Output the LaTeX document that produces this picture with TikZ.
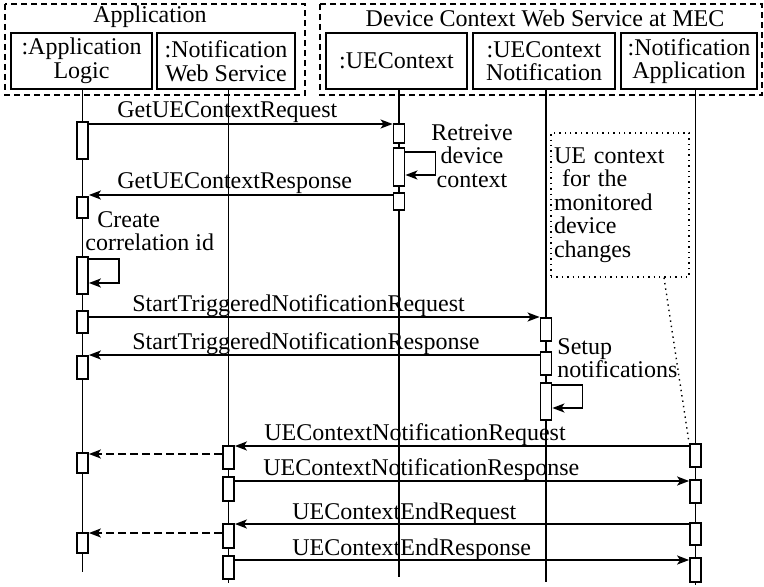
\documentclass[tikz,border=0pt]{standalone}
\usepackage{fontspec}
\setmainfont{Liberation Serif}
\usetikzlibrary{arrows.meta}
\def\actbar(#1)(#2:#3:#4){\node[act, minimum height={(#4-#3)*0.5pt}] (#1) at (#2,{(#3+#4)/2}) {}}

\begin{document}
\begin{tikzpicture}[x=0.5pt, y=-0.5pt, font=\fontsize{12}{11.8}\selectfont,
		act/.style={draw, fill=white, line width=0.9pt, minimum width=5.5pt, inner sep=0pt},
		head/.style={draw, line width=1pt, minimum height=28pt, align=center, inner sep=0pt},
		group/.style={line width=0.8pt, dash pattern=on 3pt off 2pt},
		msg/.style={line width=0.9pt, -{Stealth[length=6pt, width=4.5pt, inset=1.5pt]}},
		reply/.style={msg, dash pattern=on 4pt off 2pt},
		life/.style={line width=0.9pt},
		lbl/.style={anchor=base west, inner sep=0pt},
		note/.style={draw, line width=0.7pt, dotted, text width=66pt, align=left, inner sep=1.5pt, minimum height=72pt}]
		%%%%% START %%%%%
		\useasboundingbox (0,0) rectangle (764,587);
		
		\draw[group] (5,4) rectangle (305,95);
		\draw[group] (320,4) rectangle (762,95);
		\node[anchor=base, inner sep=0pt] (appt) at (150,23) {Application};
		\node[anchor=base, inner sep=0pt] (devt) at (545,27) {Device Context Web Service at MEC};
		
		\node[head, minimum width=70.5pt] (al) at (81.5,61) {:Application\\Logic};
		\node[head, minimum width=69pt] (nws) at (226,61) {:Notification\\Web Service};
		\node[head, minimum width=70.5pt] (ue) at (396.5,61) {:UEContext};
		\node[head, minimum width=71pt] (uen) at (544,61) {:UEContext\\Notification};
		\node[head, minimum width=68pt] (na) at (689,61) {:Notification\\Application};
		
		\draw[life] (al.south -| 82.5,0) -- (82.5,572);
		\draw[life] (nws.south -| 228.5,0) -- (228.5,583);
		\draw[life] (ue.south -| 399,0) -- (399,577);
		\draw[life] (uen.south -| 546,0) -- (546,582);
		\draw[life] (na.south -| 695.5,0) -- (695.5,585);
		
		\actbar(al1)(82.5:122:159);
		\actbar(ue1)(399:124:143);
		\actbar(ue2)(399:148:186);
		\actbar(ue3)(399:193:210);
		\actbar(al2)(82.5:197:218);
		\actbar(al3)(82.5:257:294);
		\actbar(al4)(82.5:311:333);
		\actbar(uen1)(546:318:341);
		\actbar(uen2)(546:352:375);
		\actbar(al5)(82.5:356:379);
		\actbar(uen3)(546:383:420);
		\actbar(na1)(695.5:444:467);
		\actbar(nws1)(228.5:446:469);
		\actbar(al6)(82.5:453:473);
		\actbar(nws2)(228.5:477:501);
		\actbar(na2)(695.5:480:503);
		\actbar(na3)(695.5:523:545);
		\actbar(nws3)(228.5:524:548);
		\actbar(al7)(82.5:533:553);
		\actbar(nws4)(228.5:556:579);
		\actbar(na4)(695.5:558:582);
		
		\draw[msg] (al1.east |- 0,124) -- (ue1.west |- 0,124);
		\node[lbl] (l1) at (117,118) {GetUEContextRequest};
		\draw[msg] (ue2.east |- 0,152) -- ++(30,0) |- (ue2.east |- 0,175);
		\node[align=center, inner sep=0pt] (rdc) at (472,156) {Retreive\\device\\context};
		\draw[msg] (ue3.west |- 0,195) -- (al2.east |- 0,195);
		\node[lbl] (l2) at (117,189) {GetUEContextResponse};
		
		\node[anchor=west, align=left, inner sep=0pt] (cci) at (85,231) {\hspace{6pt}Create\\correlation id};
		\draw[msg] (al3.east |- 0,259) -- ++(30,0) |- (al3.east |- 0,283);
		
		\draw[msg] (al4.east |- 0,317) -- (uen1.west |- 0,317);
		\node[lbl] (l3) at (132,311) {StartTriggeredNotificationRequest};
		\draw[msg] (uen2.west |- 0,355) -- (al5.east |- 0,355);
		\node[lbl] (l4) at (132,349) {StartTriggeredNotificationResponse};
		\node[anchor=west, align=left, inner sep=0pt] (sn) at (557,358) {Setup\\notifications};
		\draw[msg] (uen3.east |- 0,385) -- ++(30,0) |- (uen3.east |- 0,408);
		
		\node[note] (ctx) at (620,205) {UE context\\~for the\\monitored\\device\\changes};
		\draw[line width=0.7pt, dotted] ([xshift=22pt]ctx.south) -- (na1.north west);
		
		\draw[msg] (na1.west |- 0,446) -- (nws1.east |- 0,446);
		\node[lbl] (l5) at (264,440) {UEContextNotificationRequest};
		\draw[reply] (nws1.west |- 0,454) -- (al6.east |- 0,454);
		\draw[msg] (nws2.east |- 0,481) -- (na2.west |- 0,481);
		\node[lbl] (l6) at (263,475) {UEContextNotificationResponse};
		\draw[msg] (na3.west |- 0,524) -- (nws3.east |- 0,524);
		\node[lbl] (l7) at (292,519) {UEContextEndRequest};
		\draw[reply] (nws3.west |- 0,533) -- (al7.east |- 0,533);
		\draw[msg] (nws4.east |- 0,560) -- (na4.west |- 0,560);
		\node[lbl] (l8) at (292,555) {UEContextEndResponse};
		
		%%%%% END %%%%%
\end{tikzpicture}
\end{document}
